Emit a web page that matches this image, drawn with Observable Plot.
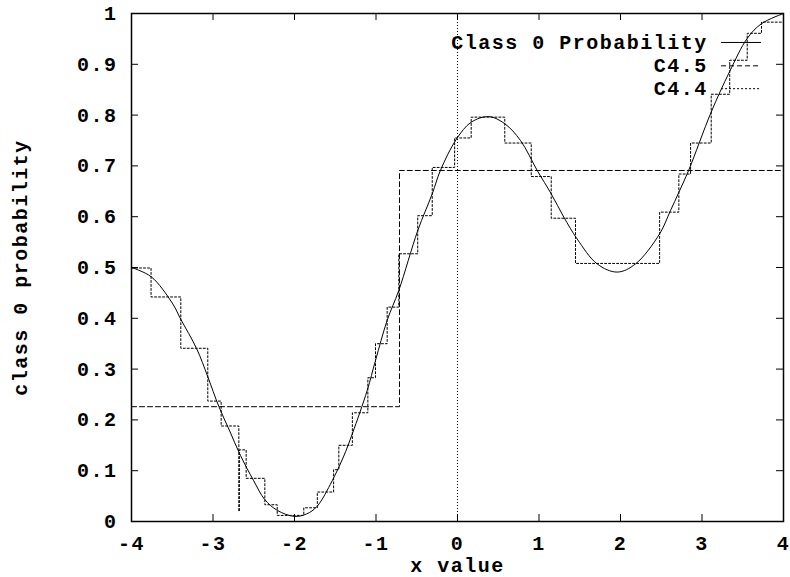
<!DOCTYPE html>
<html>
<head>
<meta charset="utf-8">
<script src="https://cdn.jsdelivr.net/npm/d3@7"></script>
<script src="https://cdn.jsdelivr.net/npm/@observablehq/plot@0.6"></script>
<style>
  html, body { margin: 0; padding: 0; background: #fff; }
</style>
</head>
<body>
<div id="chart"></div>
<script>
// ---- data ----
const xTicks = [-4, -3, -2, -1, 0, 1, 2, 3, 4];
const yTicks = [0, 0.1, 0.2, 0.3, 0.4, 0.5, 0.6, 0.7, 0.8, 0.9, 1];
const seriesNames = ["Class 0 Probability", "C4.5", "C4.4"];

// true class-0 probability curve
const probX = [-4, -3.76, -3.5, -3.395, -3.2, -3.064, -2.93, -2.8, -2.663, -2.5, -2.364, -2.212, -2.0, -1.85, -1.722, -1.538, -1.4, -1.29, -1.108, -1.006, -0.863, -0.72, -0.487, -0.31, -0.21, -0.012, 0.168, 0.384, 0.58, 0.773, 0.978, 1.15, 1.305, 1.469, 1.714, 1.96, 2.184, 2.479, 2.613, 2.716, 2.838, 3.113, 3.337, 3.555, 3.73, 4.0];
const probY = [0.5, 0.482, 0.43, 0.398, 0.34, 0.285, 0.227, 0.18, 0.13, 0.08, 0.043, 0.022, 0.010, 0.015, 0.03, 0.08, 0.127, 0.173, 0.258, 0.317, 0.396, 0.455, 0.573, 0.645, 0.691, 0.753, 0.786, 0.797, 0.783, 0.750, 0.691, 0.645, 0.599, 0.556, 0.507, 0.491, 0.507, 0.566, 0.612, 0.648, 0.692, 0.806, 0.885, 0.951, 0.980, 1.0];

// C4.5 step estimate (x = start of each step)
const c45X = [-4, -0.712, 4];
const c45Y = [0.226, 0.691, 0.691];

// C4.4 step estimate (x = start of each step)
const c44X = [-4, -3.76, -3.395, -3.064, -2.90, -2.683, -2.676, -2.593, -2.364, -2.212, -1.886, -1.72, -1.52, -1.456, -1.29, -1.10, -1.006, -0.863, -0.72, -0.488, -0.31, -0.035, 0.168, 0.58, 0.905, 1.15, 1.448, 2.48, 2.716, 2.86, 3.113, 3.34, 3.555, 3.73, 4];
const c44Y = [0.499, 0.442, 0.341, 0.237, 0.188, 0.02, 0.141, 0.085, 0.033, 0.012, 0.027, 0.058, 0.102, 0.150, 0.214, 0.283, 0.350, 0.422, 0.527, 0.602, 0.697, 0.755, 0.796, 0.745, 0.679, 0.597, 0.508, 0.609, 0.684, 0.745, 0.841, 0.908, 0.961, 0.983, 0.983];

// ---- tables ----
const prob = probX.map((x, i) => ({x, y: probY[i]}));
const c45 = c45X.map((x, i) => ({x, y: c45Y[i]}));
const c44 = c44X.map((x, i) => ({x, y: c44Y[i]}));

// ---- layout ----
const W = 790, H = 577;
const mL = 131, mR = 7, mT = 13, mB = 56;
const innerW = W - mL - mR, innerH = H - mT - mB;
const tick = 7;
const font = "'Liberation Mono', 'DejaVu Sans Mono', monospace";

// legend placement (data coordinates inside the frame)
const legTextX = 3.07, legX1 = 3.24, legX2 = 3.73;
const legRowY = [0.943, 0.897, 0.852];
const dashes = [null, "5,3", "2,2"];
const legend = seriesNames.map((name, i) => ({name, y: legRowY[i], dash: dashes[i]}));

const chart = Plot.plot({
  width: W, height: H,
  marginLeft: mL, marginRight: mR, marginTop: mT, marginBottom: mB,
  style: {fontFamily: font, fontWeight: "bold", fontSize: "20px", letterSpacing: "1.5px", color: "#000", background: "#fff"},
  x: {domain: [-4, 4]},
  y: {domain: [0, 1]},
  marks: [
    Plot.ruleX([0], {stroke: "#000", strokeWidth: 1, strokeDasharray: "1,2"}),
    // inward ticks on all four sides
    Plot.tickX(xTicks, {x: d => d, insetTop: innerH - tick, stroke: "#000"}),
    Plot.tickX(xTicks, {x: d => d, insetBottom: innerH - tick, stroke: "#000"}),
    Plot.tickY(yTicks, {y: d => d, insetRight: innerW - tick, stroke: "#000"}),
    Plot.tickY(yTicks, {y: d => d, insetLeft: innerW - tick, stroke: "#000"}),
    Plot.axisX(xTicks, {anchor: "bottom", tickSize: 0, tickPadding: 14, tickFormat: d => String(d), label: null}),
    Plot.axisY(yTicks, {anchor: "left", tickSize: 0, tickPadding: 14, tickFormat: d => String(d), label: null}),
    Plot.text(["class 0 probability"], {frameAnchor: "left", textAnchor: "middle", lineAnchor: "middle", dx: -111, rotate: -90}),
    Plot.text(["x value"], {frameAnchor: "bottom", textAnchor: "middle", lineAnchor: "middle", dy: 44}),
    // series
    Plot.line(c45, {x: "x", y: "y", curve: "step-after", stroke: "#000", strokeWidth: 1, strokeDasharray: "5,3"}),
    Plot.line(c44, {x: "x", y: "y", curve: "step-after", stroke: "#000", strokeWidth: 1, strokeDasharray: "2,2"}),
    Plot.line(prob, {x: "x", y: "y", curve: "catmull-rom", stroke: "#000", strokeWidth: 1}),
    // legend
    Plot.text(legend, {x: () => legTextX, y: "y", text: "name", textAnchor: "end"}),
    Plot.ruleY(legend.filter(d => !d.dash), {y: "y", x1: () => legX1, x2: () => legX2, stroke: "#000"}),
    Plot.ruleY(legend.filter(d => d.dash === "5,3"), {y: "y", x1: () => legX1, x2: () => legX2, stroke: "#000", strokeDasharray: "5,3"}),
    Plot.ruleY(legend.filter(d => d.dash === "2,2"), {y: "y", x1: () => legX1, x2: () => legX2, stroke: "#000", strokeDasharray: "2,2"}),
    Plot.frame({stroke: "#000", strokeWidth: 1.5})
  ]
});
document.getElementById("chart").appendChild(chart);
</script>
</body>
</html>
